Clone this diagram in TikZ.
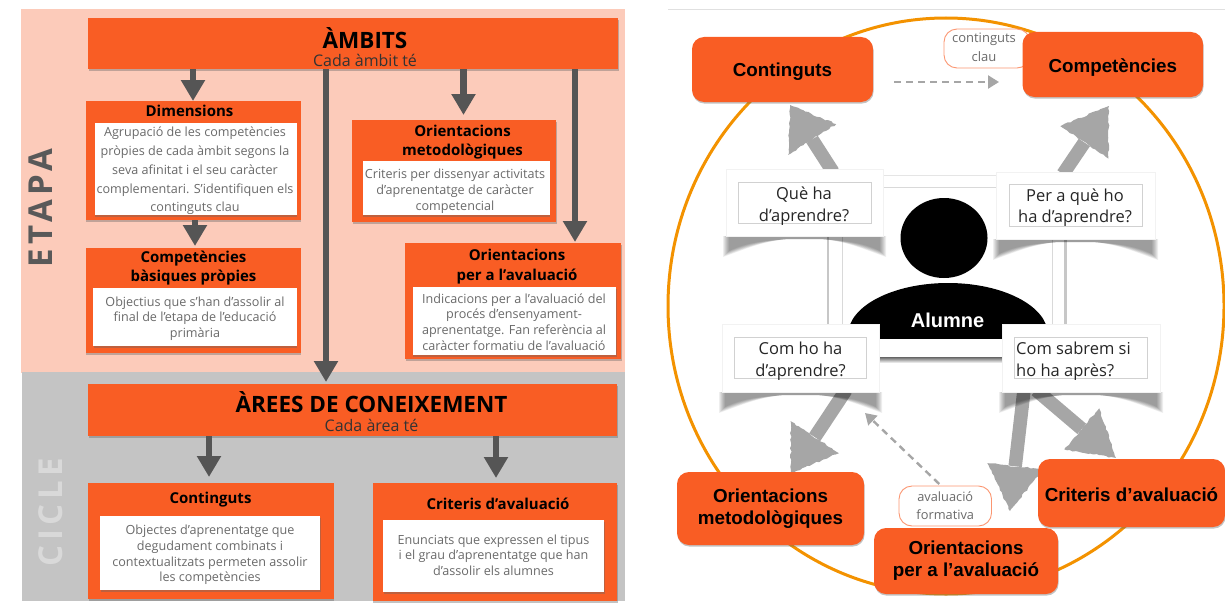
\documentclass[tikz,border=0pt]{standalone}
\usepackage{fontspec}
\setmainfont{Open Sans}
\newfontfamily\arialf{Liberation Sans}
\newfontfamily\spacedf[LetterSpace=14]{Open Sans}
\usetikzlibrary{arrows.meta,calc,shadows,decorations.pathmorphing}
\definecolor{orbox}{HTML}{F95D24}
\definecolor{peach}{HTML}{FCCBBA}
\definecolor{panelgray}{HTML}{C4C4C4}
\definecolor{darkarrow}{HTML}{555555}
\definecolor{bodytext}{HTML}{6A6A6A}
\definecolor{ring}{HTML}{F39200}
\definecolor{sketch}{HTML}{A6A6A6}
\tikzset{
  x=1pt,y=-1pt,
  box/.style={inner sep=0pt,outer sep=0pt,anchor=center},
  softshadow/.style={drop shadow={shadow xshift=0.6pt,shadow yshift=-1.6pt,opacity=.4,fill=black!60}},
  orangebox/.style={box,fill=orbox,softshadow},
  whitebox/.style={box,fill=white,softshadow},
  bodytxt/.style={inner sep=0pt,text=bodytext,align=center,font=\fontsize{12.6}{15.7}\selectfont},
  roundbox/.style={box,fill=orbox,rounded corners=12pt,softshadow,align=center,text=black,font=\arialf\bfseries\fontsize{18.8}{22}\selectfont},
  boxtitle/.style={inner sep=0pt,align=center,text=black,font=\bfseries\fontsize{15}{19}\selectfont},
  bigtitle/.style={inner sep=0pt,text=black,font=\bfseries\fontsize{22.5}{24}\selectfont},
  subtitle/.style={inner sep=0pt,text=black!80,font=\fontsize{16}{18}\selectfont},
  heavyarrow/.style={draw=darkarrow,line width=6.5pt,-{Triangle[length=21pt,width=23pt]}},
  card/.style={box,fill=white,draw=black!5,line width=.6pt},
  cardframe/.style={box,draw=black!18,line width=.6pt},
  cardtext/.style={inner sep=0pt,align=center,text=black!85,font=\fontsize{16.5}{22}\selectfont},
  pill/.style={box,fill=white,draw=orbox!65,line width=.9pt,rounded corners=13pt,text=bodytext,align=center,font=\fontsize{12.8}{18}\selectfont},
  dashedarrow/.style={draw=sketch,line width=2.4pt,dash pattern=on 7pt off 5pt,-{Triangle[length=11pt,width=13pt]}},
  roughfill/.style={fill=sketch,decorate,decoration={random steps,segment length=3pt,amplitude=.8pt}},
  roughshaft/.style={draw=sketch,line width=13.5pt},
}
\newcommand{\rectnode}[7]{% style,name,x1,y1,x2,y2,text
  \node[#1,minimum width={(#5-#3)*1pt},minimum height={(#6-#4)*1pt}] (#2) at ({(#3+#5)/2},{(#4+#6)/2}) {#7};}
\newcommand{\sketcharrow}[4]{% from,tip,length,halfwidth
  \coordinate (hb) at ($(#2)!#3pt!(#1)$);
  \coordinate (hp) at ($(hb)!#4pt!90:(#2)$);
  \coordinate (hq) at ($(hb)!#4pt!-90:(#2)$);
  \draw[roughshaft] (#1) -- (hb);
  \fill[roughfill] (#2) -- (hp) -- (hq) -- cycle;}
\newcommand{\curlshadow}[3]{% x1,x2,y
  \foreach \k in {0,1,2,3,4,5,6}{
    \fill[black,opacity=.065] ({#1-3+\k},#3) -- ({#1-3+\k},{#3+21-\k})
      .. controls ({#1+22},{#3+12-\k}) and ({#1+38},{#3+5}) .. ({#1+62},{#3+3})
      -- ({#2-62},{#3+3})
      .. controls ({#2-38},{#3+5}) and ({#2-22},{#3+12-\k}) .. ({#2+3-\k},{#3+21-\k})
      -- ({#2+3-\k},#3) -- cycle;}}
\begin{document}
\begin{tikzpicture}
\pgfmathsetseed{7}
\useasboundingbox (0,0) rectangle (1225,602);
% ---------- left panels
\fill[peach] (21,9) rectangle (625,373);
\fill[panelgray] (22,372) rectangle (625,601);
\node[rotate=90,text=black!65,inner sep=0pt,font=\spacedf\bfseries\fontsize{33}{33}\selectfont] (etapa) at (41,208) {ETAPA};
\node[rotate=90,text=white!85!black,inner sep=0pt,font=\spacedf\bfseries\fontsize{33}{33}\selectfont] (cicle) at (51,512) {CICLE};
% ---------- left boxes
\rectnode{orangebox}{ambits}{88}{18}{618}{69}{}
\node[bigtitle] (ambitst) at (365,38) {ÀMBITS};
\node[subtitle] (ambitss) at (365,60.5) {Cada àmbit té};
\rectnode{orangebox}{dim}{85.5}{101}{300.5}{220}{}
\node[boxtitle] (dimt) at (189.5,111) {Dimensions};
\rectnode{whitebox}{dimw}{94.5}{123}{296.5}{215}{}
\node[bodytxt,font=\fontsize{12.6}{18.7}\selectfont] (dimx) at (195,171) {Agrupació de les competències\\pròpies de cada àmbit segons la\\seva afinitat i el seu caràcter\\complementari. S’identifiquen els\\continguts clau};
\rectnode{orangebox}{comp}{85.5}{248}{300.5}{353}{}
\node[boxtitle] (compt) at (193.5,268) {Competències\\bàsiques pròpies};
\rectnode{whitebox}{compw}{93}{288}{296.5}{346}{}
\node[bodytxt] (compx) at (195,318.5) {Objectius que s’han d’assolir al\\final de l’etapa de l’educació\\primària};
\rectnode{orangebox}{met}{352}{120}{556}{222}{}
\node[boxtitle] (mett) at (462.5,142.5) {Orientacions\\metodològiques};
\rectnode{whitebox}{metw}{362.5}{161}{549.5}{215}{}
\node[bodytxt,font=\fontsize{12.6}{16}\selectfont] (metx) at (455,191) {Criteris per dissenyar activitats\\d’aprenentatge de caràcter\\competencial};
\rectnode{orangebox}{ava}{405}{243}{621}{359}{}
\node[boxtitle,font=\bfseries\fontsize{15}{20}\selectfont] (avat) at (517,267) {Orientacions\\per a l’avaluació};
\rectnode{whitebox}{avaw}{412.5}{287}{616}{355}{}
\node[bodytxt,font=\fontsize{12.6}{15.8}\selectfont] (avax) at (514,322) {Indicacions per a l’avaluació del\\procés d’ensenyament-\\aprenentatge. Fan referència al\\caràcter formatiu de l’avaluació};
\rectnode{orangebox}{arees}{88}{384}{617}{436}{}
\node[bigtitle] (areest) at (371.5,402.5) {ÀREES DE CONEIXEMENT};
\node[subtitle] (areess) at (371.5,425) {Cada àrea té};
\rectnode{orangebox}{cont}{88}{483}{333.5}{599}{}
\node[boxtitle] (contt) at (210.5,500) {Continguts};
\rectnode{whitebox}{contw}{100}{516}{320}{590}{}
\node[bodytxt] (contx) at (210,555) {Objectes d’aprenentatge que\\degudament combinats i\\contextualitzats permeten assolir\\les competències};
\rectnode{orangebox}{crit}{372.5}{483}{617}{601}{}
\node[boxtitle] (critt) at (498,504) {Criteris d’avaluació};
\rectnode{whitebox}{critw}{383}{520}{604}{592}{}
\node[bodytxt] (critx) at (493.5,555) {Enunciats que expressen el tipus\\i el grau d’aprenentatge que han\\d’assolir els alumnes};
% ---------- left connectors
\coordinate (xa) at (193,0);
\coordinate (xb) at (326,0);
\coordinate (xc) at (463.5,0);
\coordinate (xd) at (575,0);
\coordinate (xe) at (195,0);
\coordinate (xf) at (209,0);
\coordinate (xg) at (496,0);
\draw[heavyarrow] (ambits.south -| xa) -- (dim.north -| xa);
\draw[heavyarrow] (ambits.south -| xb) -- ([yshift=2pt]arees.north -| xb);
\draw[heavyarrow] (ambits.south -| xc) -- ([yshift=5pt]met.north -| xc);
\draw[heavyarrow] (ambits.south -| xd) -- ([yshift=1pt]ava.north -| xd);
\draw[heavyarrow] (dim.south -| xe) -- ([yshift=2pt]comp.north -| xe);
\draw[heavyarrow] (arees.south -| xf) -- ([yshift=6pt]cont.north -| xf);
\draw[heavyarrow] (arees.south -| xg) -- ([yshift=5pt]crit.north -| xg);
% ---------- right side
\draw[black!12,line width=1pt] (668,9.5) -- (1225,9.5);
\draw[ring,line width=3pt] (946,306) ellipse [x radius=278,y radius=288];
% central frame
\fill[black!22] (826.5,175) rectangle (1066.5,357);
\fill[white] (829,176) rectangle (1064,357);
\draw[black!10,line width=.7pt] (829,175.5) -- (1064,175.5);
\draw[black!15,line width=.7pt] (842,187) rectangle (1052,338);
\shade[top color=black!60,bottom color=white] (827,357) rectangle (1066,363);
% person
\fill[black] (944,238) ellipse [x radius=43.5,y radius=40];
\begin{scope}
  \clip (840,280) rectangle (1056,338);
  \fill[black] (948,335) ellipse [x radius=100,y radius=52];
\end{scope}
\node[inner sep=0pt,text=white,font=\arialf\bfseries\fontsize{20}{22}\selectfont] (alumne) at (947.5,320) {Alumne};
% sketched arrows, from behind the cards
\coordinate (t1) at (790,105);
\coordinate (t2) at (1109,106);
\coordinate (t3) at (791,473);
\coordinate (t4) at (1010,511);
\coordinate (t5) at (1116,458);
\coordinate (f1) at (833,172);
\coordinate (f2) at (1063,174);
\coordinate (f3) at (846,390);
\coordinate (f4) at (1024,390);
\coordinate (f5) at (1036,390);
\sketcharrow{f1}{t1}{41}{28.5}
\sketcharrow{f2}{t2}{44}{29}
\sketcharrow{f3}{t3}{43}{29}
\sketcharrow{f4}{t4}{45}{28}
\sketcharrow{f5}{t5}{45}{27}
\curlshadow{726}{883}{236}
\curlshadow{996}{1155}{239}
\curlshadow{722}{879}{392}
\curlshadow{1002}{1160}{392}
\rectnode{card}{c1}{726}{169.5}{883}{236}{}
\rectnode{card}{c2}{996}{172}{1155}{239}{}
\rectnode{card}{c3}{722}{324}{879}{392}{}
\rectnode{card}{c4}{1002}{324}{1160}{392}{}
\rectnode{cardframe}{c1f}{738}{182}{871}{223}{}
\rectnode{cardframe}{c2f}{1009}{184}{1142}{226}{}
\rectnode{cardframe}{c3f}{734}{337}{866.5}{378}{}
\rectnode{cardframe}{c4f}{1014}{337}{1147.5}{378}{}
\node[cardtext] (c1t) at (804,206) {Què ha\\d’aprendre?};
\node[cardtext,font=\fontsize{16.5}{21}\selectfont] (c2t) at (1075,208) {Per a què ho\\ha d’aprendre?};
\node[cardtext,font=\fontsize{16.5}{22.5}\selectfont] (c3t) at (800.5,361) {Com ho ha\\d’aprendre?};
\node[cardtext,align=left,anchor=west,font=\fontsize{16.5}{22.5}\selectfont] (c4t) at (1016,361) {Com sabrem si\\ho ha après?};
% pills and rounded boxes
\rectnode{pill}{clau}{944}{29}{1030}{68}{}
\node[inner sep=0pt,align=center,text=bodytext,font=\fontsize{13}{19}\selectfont] (claut) at (984,47.5) {continguts\\clau};
\rectnode{pill}{form}{899}{486}{991.5}{526}{avaluació\\formativa}
\rectnode{roundbox}{rcont}{692}{37}{873}{102}{\rule{0pt}{18pt}Continguts}
\rectnode{roundbox}{rcomp}{1022.5}{32}{1203}{97}{\rule{0pt}{20pt}Competències}
\rectnode{roundbox}{rmet}{677}{472}{864}{545}{Orientacions\\metodològiques}
\rectnode{roundbox}{rcrit}{1038}{459}{1225}{527}{\rule{0pt}{18pt}Criteris d’avaluació}
\rectnode{roundbox}{rava}{874}{528}{1058}{594}{Orientacions\\per a l’avaluació}
% dashed connectors
\coordinate (dtip) at (999,82);
\coordinate (dstart) at (894,82);
\coordinate (ftip) at (865,413);
\draw[dashedarrow] (dstart) -- (dtip);
\draw[dashedarrow] (form.north) ++(-6,-2) -- (ftip);
\end{tikzpicture}
\end{document}
